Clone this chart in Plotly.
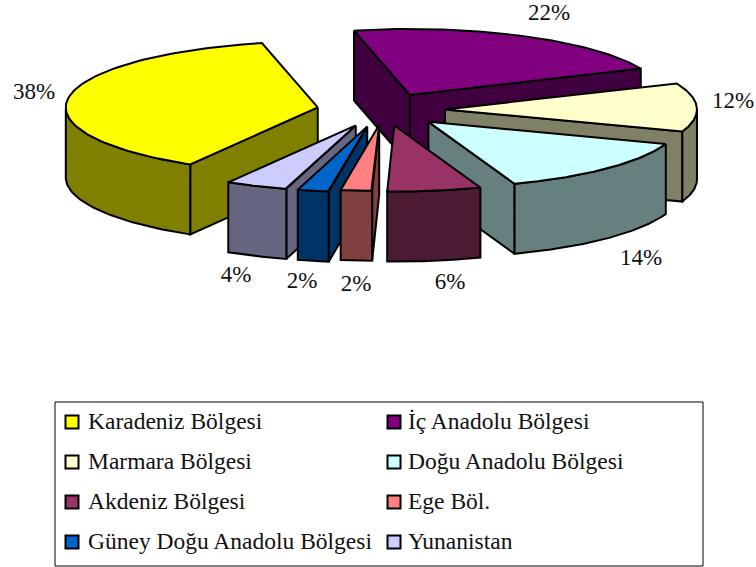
import numpy as np
import plotly.graph_objects as go

# --- data ---
regions = ["Karadeniz Bölgesi", "İç Anadolu Bölgesi", "Marmara Bölgesi", "Doğu Anadolu Bölgesi",
           "Akdeniz Bölgesi", "Ege Böl.", "Güney Doğu Anadolu Bölgesi", "Yunanistan"]
shares = [38, 22, 12, 14, 6, 2, 2, 4]
top_colors = ["#FFFF00", "#800080", "#FFFFCC", "#CCFFFF", "#993366", "#FF8080", "#0066CC", "#CCCCFF"]
side_colors = ["#808000", "#400040", "#808066", "#668080", "#4D1A33", "#804040", "#003366", "#666680"]

# --- layout constants (pixel-like axis units) ---
W, H = 756, 567
CX, CY = 381, 110          # pie centre
R, K = 252, 0.262          # radius, vertical flattening
EXPLODE, DEPTH = 64, 70
FIRST_ANGLE = 210.4        # clockwise from 12 o'clock
draw_order = [1, 0, 2, 3, 4, 7, 6, 5]
nudge_x = [0, 0, 0, 2, 3, 4, 0, 0]
nudge_y = [0, 0, 0, 0, -1, -2, 0, 0]
label_x = [34, 549, 733, 641, 450, 356, 302, 236]
label_y = [93, 14, 102, 259, 283, 285, 282, 276]
FONT = "Liberation Serif, Times New Roman, serif"


def proj(theta_deg, r):
    t = np.radians(theta_deg)
    return r * np.sin(t), -K * r * np.cos(t)


fig = go.Figure()


def poly(xs, ys, color, name):
    fig.add_trace(go.Scatter(
        x=list(xs) + [xs[0]], y=list(ys) + [ys[0]], mode="lines", fill="toself", fillcolor=color,
        line=dict(color="black", width=2), name=name, hoverinfo="name", showlegend=False))


starts = FIRST_ANGLE + np.concatenate([[0], np.cumsum(shares)[:-1]]) * 3.6
ends = starts + np.array(shares) * 3.6

for i in draw_order:
    a, b = starts[i], ends[i]
    mid = (a + b) / 2
    dx, dy = proj(mid, EXPLODE)
    ax, ay = CX + dx + nudge_x[i], CY + dy + nudge_y[i]
    name = regions[i]

    # radial side faces that look towards the viewer
    for edge, normal in ((a, a - 90), (b, b + 90)):
        if np.cos(np.radians(normal)) < 0:
            ex, ey = proj(edge, R)
            px, py = ax + ex, ay + ey
            poly([ax, px, px, ax], [ay, py, py + DEPTH, ay + DEPTH], side_colors[i], name)

    # outer wall: the part of the arc on the near half of the pie
    th = np.linspace(a, b, 90)
    near = th[np.cos(np.radians(th)) <= 0]
    if len(near) > 1:
        wx, wy = proj(near, R)
        wx, wy = ax + wx, ay + wy
        poly(np.r_[wx, wx[::-1]], np.r_[wy, wy[::-1] + DEPTH], side_colors[i], name)

    # top face
    tx, ty = proj(th, R)
    poly(np.r_[ax, ax + tx], np.r_[ay, ay + ty], top_colors[i], name)

# percentage labels
fig.add_trace(go.Scatter(
    x=label_x, y=label_y, mode="text", text=[f"{s}%" for s in shares], textposition="middle center",
    textfont=dict(family=FONT, size=23, color="#111111"), hoverinfo="skip", showlegend=False))

# legend, two columns by four rows
col_swatch = [72, 394]
col_text = [88, 408]
rows = [422, 462, 502, 542]
text_rows = [423, 463, 503, 543]
lx = [col_swatch[n % 2] for n in range(len(regions))]
tx_ = [col_text[n % 2] for n in range(len(regions))]
ly = [rows[n // 2] for n in range(len(regions))]
tly = [text_rows[n // 2] for n in range(len(regions))]
fig.add_trace(go.Scatter(
    x=lx, y=ly, mode="markers", marker=dict(symbol="square", size=13, color=top_colors,
                                            line=dict(color="black", width=2)),
    hoverinfo="skip", showlegend=False))
fig.add_trace(go.Scatter(
    x=tx_, y=tly, mode="text", text=regions, textposition="middle right",
    textfont=dict(family=FONT, size=23.5, color="#111111"), hoverinfo="skip", showlegend=False))

fig.update_layout(
    width=W, height=H, margin=dict(l=0, r=0, t=0, b=0), paper_bgcolor="white", plot_bgcolor="white",
    xaxis=dict(range=[0, W], visible=False, fixedrange=True),
    yaxis=dict(range=[H, 0], visible=False, fixedrange=True),
    shapes=[dict(type="rect", x0=55, x1=703, y0=402, y1=566, line=dict(color="black", width=1), layer="below")],
)
fig.write_html("out.html", config={"displayModeBar": False},
               post_script="document.body.style.margin='0';document.documentElement.style.overflow='hidden';")
